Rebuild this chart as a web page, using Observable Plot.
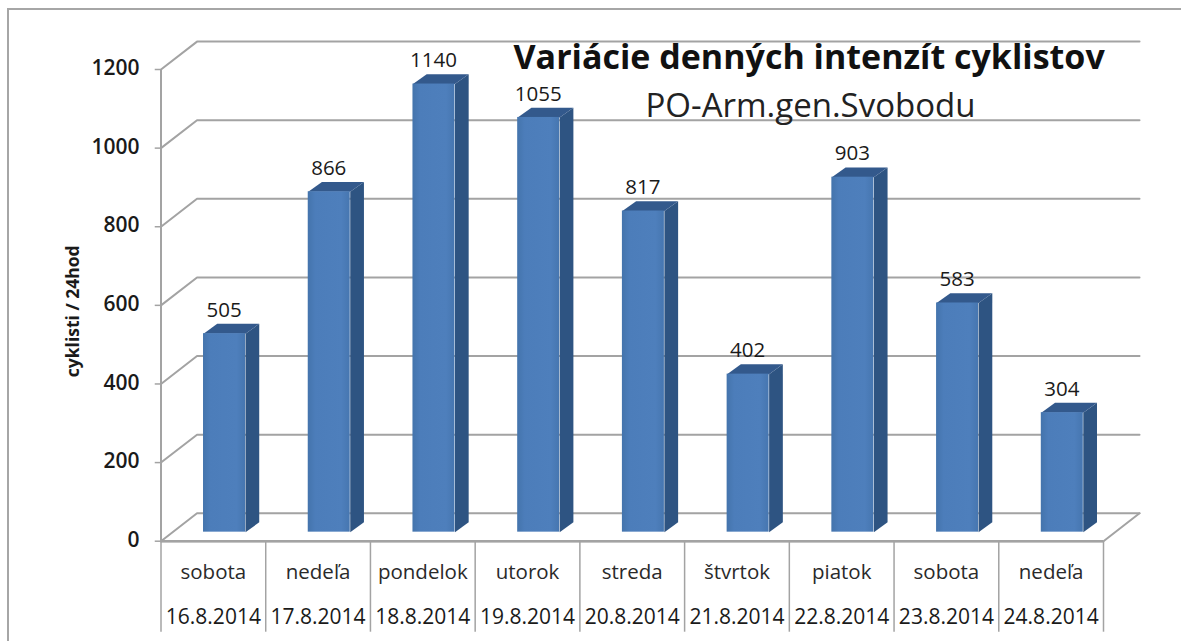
<!DOCTYPE html>
<html><head><meta charset="utf-8">
<script src="https://cdn.jsdelivr.net/npm/d3@7"></script>
<script src="https://cdn.jsdelivr.net/npm/@observablehq/plot@0.6"></script>
<style>
html,body{margin:0;padding:0;background:#fff;overflow:hidden}
#frame{position:relative;width:1181px;height:641px}
#frame:before{content:"";position:absolute;left:7px;top:8px;right:0;bottom:0;border-left:2px solid #a6a6a6;border-top:2px solid #a6a6a6}
#frame svg{position:absolute;left:0;top:0;background:transparent}
</style></head><body><div id="frame"></div>
<script>
const days = ["sobota","nedeľa","pondelok","utorok","streda","štvrtok","piatok","sobota","nedeľa"];
const dates = ["16.8.2014","17.8.2014","18.8.2014","19.8.2014","20.8.2014","21.8.2014","22.8.2014","23.8.2014","24.8.2014"];
const values = [505,866,1140,1055,817,402,903,583,304];
const gridValues = [0,200,400,600,800,1000,1200];

// oblique projection of the 3D box, expressed in scale units
const wallDx = 0.344, wallDy = 71;      // floor depth
const barDx = 0.131, barDy = 25;        // bar depth
const barL = 0.406, barW = 0.401, barBase = 23;

const grid = gridValues.flatMap(v => [
  {v, x:0, y:v}, {v, x:wallDx, y:v+wallDy}, {v, x:9+wallDx, y:v+wallDy}
]);
const floor = [{x:0,y:0},{x:9,y:0},{x:9+wallDx,y:wallDy}];
const bars = values.map((v,i)=>({v,i,l:i+barL,r:i+barL+barW,b:barBase,t:barBase+v}));
const sideFaces = bars.flatMap(d=>[
  {i:d.i,x:d.r,y:d.b},{i:d.i,x:d.r+barDx,y:d.b+barDy},{i:d.i,x:d.r+barDx,y:d.t+barDy},{i:d.i,x:d.r,y:d.t}
]);
const topFaces = bars.flatMap(d=>[
  {i:d.i,x:d.l,y:d.t},{i:d.i,x:d.r,y:d.t},{i:d.i,x:d.r+barDx,y:d.t+barDy},{i:d.i,x:d.l+barDx,y:d.t+barDy}
]);
const gridColor = "#a3a3a3";
const font = "'Open Sans'";
const defs = () => {
  const s = d3.create("svg:defs");
  const g = s.append("linearGradient").attr("id","front");
  [[0,"#4474ac"],[.18,"#4c7dba"],[.8,"#4e7fbc"],[1,"#4676b0"]].forEach(([o,c])=>g.append("stop").attr("offset",o).attr("stop-color",c));
  return s.node();
};
const catIdx = d3.range(9);
const chart = Plot.plot({
  width:1181, height:641, margin:0,
  style:{background:"transparent"},
  x:{type:"linear",domain:[0,9],range:[160.5,1103],axis:null},
  y:{domain:[0,1200],range:[540.7,69],axis:null},
  marks:[
    defs,
    Plot.line(grid,{x:"x",y:"y",z:"v",stroke:gridColor,strokeWidth:2}),
    Plot.line(floor,{x:"x",y:"y",stroke:gridColor,strokeWidth:2}),
    Plot.ruleX([0],{y1:0,y2:1200,stroke:gridColor,strokeWidth:2}),
    Plot.ruleY([0],{x1:0,x2:9,stroke:gridColor,strokeWidth:2.5}),
    Plot.ruleY(gridValues,{x1:-0.055,x2:0,stroke:gridColor,strokeWidth:1.5}),
    Plot.ruleX(d3.range(0,10),{y1:0,y2:0,stroke:gridColor,strokeWidth:1.5,insetBottom:-91}),
    Plot.line(sideFaces,{x:"x",y:"y",z:"i",fill:"#2e5482",stroke:null}),
    Plot.line(topFaces,{x:"x",y:"y",z:"i",fill:"#33598c",stroke:null}),
    Plot.rect(bars,{x1:"l",x2:"r",y1:"b",y2:"t",fill:"url(#front)"}),
    Plot.text(values,{x:(d,i)=>bars[i].l+barW/2,y:(d,i)=>bars[i].t,text:d=>String(d),dx:-0.5,dy:-23.5,fontFamily:font,fontSize:20.5,fontWeight:500,fill:"#1a1a1a"}),
    Plot.text(gridValues,{x:0,y:d=>d,text:d=>String(d),textAnchor:"end",dx:-21.5,dy:-1,fontFamily:font,fontSize:21,fontWeight:600,fill:"#1a1a1a"}),
    Plot.text(["cyklisti / 24hod"],{x:0,y:585,dx:-88,rotate:-90,fontFamily:font,fontSize:17.5,fontWeight:700,fill:"#1a1a1a"}),
    Plot.text(catIdx,{x:d=>d+0.5,y:0,text:d=>days[d],dy:31,fontFamily:font,fontSize:20.5,fontWeight:500,fill:"#2a2a2a"}),
    Plot.text(catIdx,{x:d=>d+0.5,y:0,text:d=>dates[d],dy:76,fontFamily:font,fontSize:21,fontWeight:500,fill:"#1a1a1a"}),
    Plot.text(["Variácie denných intenzít cyklistov"],{frameAnchor:"top-left",dx:513,dy:44,textAnchor:"start",lineAnchor:"top",fontFamily:font,fontSize:34,fontWeight:700,fill:"#111"}),
    Plot.text(["PO-Arm.gen.Svobodu"],{frameAnchor:"top-left",dx:645,dy:93,textAnchor:"start",lineAnchor:"top",fontFamily:font,fontSize:33,fill:"#222"})
  ]
});
document.getElementById("frame").appendChild(chart);
</script></body></html>
